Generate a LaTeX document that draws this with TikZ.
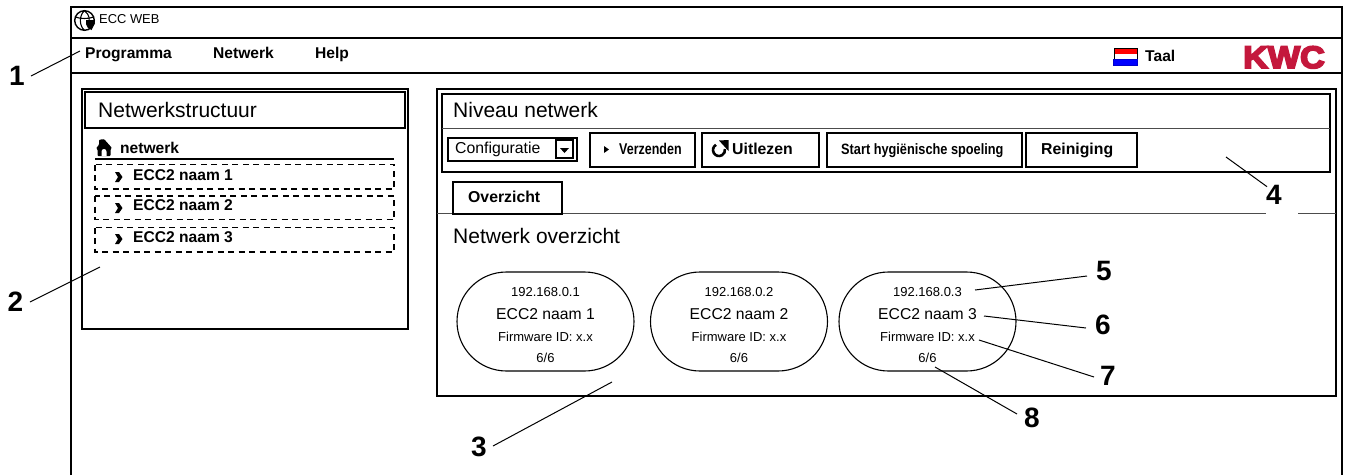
\documentclass[tikz,border=0pt]{standalone}
\usepackage{fontspec}
\usetikzlibrary{shapes.misc}
\setmainfont{Liberation Sans}
\newfontfamily\kwcfont[BoldFeatures={FakeBold=6,FakeStretch=1.1}]{Liberation Sans}
\newcommand{\fs}[1]{\fontsize{#1}{#1}\selectfont}
\definecolor{kwcred}{HTML}{C4183C}
\tikzset{
  x=1pt,y=-1pt,
  txt/.style={inner sep=0pt,anchor=base west},
  ctr/.style={inner sep=0pt,anchor=base},
  frame/.style={draw=black,line width=2pt},
  thin sep/.style={draw=black!70,line width=1.1pt},
  menu/.style={txt,font=\fs{15.6}\bfseries},
  titletxt/.style={txt,font=\fs{21}},
  tree/.style={txt,font=\fs{15.6}\bfseries},
  dashrow/.style={draw=black,line width=1.7pt,dash pattern=on 6pt off 4.5pt},
  btn/.style={txt,font=\fs{15.8}\bfseries},
  stadium/.style={draw=black,line width=1.1pt,rounded rectangle,minimum width=177pt,minimum height=99pt,inner sep=0pt},
  small/.style={ctr,font=\fs{13}},
  big/.style={ctr,font=\fs{15.7}},
  num/.style={inner sep=0pt,font=\fs{28}\bfseries},
  lead/.style={draw=black,line width=1pt},
  chev/.style={fill=black,draw=none},
}
\begin{document}
\begin{tikzpicture}
\useasboundingbox[fill=white] (0,0) rectangle (1345,475);
% window
\draw[frame] (71,475) -- (71,7) -- (1342,7) -- (1342,475);
\draw[frame] (71,38) -- (1342,38);
\draw[frame] (71,73) -- (1342,73);
% globe icon
\draw[line width=1.4pt] (84.5,20.5) circle (9.8);
\draw[line width=1.1pt] (84.5,10.7) .. controls (79,15) and (79,26) .. (84.5,30.3);
\draw[line width=1.1pt] (84.5,10.7) .. controls (90,15) and (90,20) .. (88,24);
\draw[line width=1.1pt] (75.5,17) .. controls (80,19) and (89,19) .. (93.5,17);
\fill[black] (86,20) -- (94,20) -- (95,23) -- (91.5,30) -- (88,28) -- (86,24) -- cycle;
\node[txt,font=\fs{12.9}] (title) at (99,23) {ECC WEB};
% menu
\node[menu] (m1) at (85,58) {Programma};
\node[menu] (m2) at (213,58) {Netwerk};
\node[menu] (m3) at (315,58) {Help};
% flag and language
\fill[red] (1113.5,48.5) rectangle (1137.5,53.5);
\fill[blue] (1113.5,59) rectangle (1137.5,65.5);
\draw[black,line width=1pt] (1114,48.5) rectangle (1137.5,59);
\draw[blue!80!black,line width=1pt] (1113.5,59) rectangle (1137.5,65.5);
\node[menu] (taal) at (1145,61) {Taal};
\node[inner sep=0pt,anchor=base,text=kwcred,font=\kwcfont\fs{31}\bfseries] (kwc) at (1284,68) {KWC};
% left panel
\draw[frame] (82,329) -- (82,89) -- (408,89) -- (408,329) -- cycle;
\draw[frame] (85,128) -- (85,92) -- (404.5,92) -- (404.5,128) -- cycle;
\node[titletxt] (netstruct) at (98,117) {Netwerkstructuur};
% house icon
\fill[black,rounded corners=1pt] (96,148) -- (99,145) -- (99,139.5) -- (102,139.5) -- (104,139) -- (112,148) -- (110.5,149) -- (110.5,156) -- (97.5,156) -- (97.5,149) -- cycle;
\fill[white] (101.5,156) -- (101.5,151.5) arc[start angle=180,end angle=360,radius=2.5] -- (106.5,156) -- cycle;
\node[tree] (net) at (120,153) {netwerk};
\draw[line width=1.8pt] (95,159) -- (394,159);
\draw[dashrow] (95,164.5) rectangle (394,189);
\draw[dashrow] (95,196) rectangle (394,219.5);
\draw[dashrow] (95,227.5) rectangle (394,252);
\foreach \n/\b/\m in {1/180/177,2/210/208,3/242/239}{
  \fill[chev] (115,\m-5) -- (119,\m-5) -- (122.5,\m) -- (119,\m+5) -- (115,\m+5) -- (118,\m) -- cycle;
  \node[tree] (row\n) at (133,\b) {ECC2 naam \n};
}
% right panel
\draw[frame] (437,396) -- (437,89) -- (1336,89) -- (1336,396) -- cycle;
\draw[frame] (442,172) -- (442,94) -- (1330,94) -- (1330,172) -- cycle;
\draw[thin sep] (442,128.5) -- (1330,128.5);
\node[titletxt] (niveau) at (453,117) {Niveau netwerk};
% toolbar
\draw[line width=2pt] (448,138) rectangle (577,161);
\draw[line width=2pt] (556,140) rectangle (573,158);
\fill[black] (560,148) -- (569,148) -- (564.5,153) -- cycle;
\node[txt,font=\fs{15.8}] (config) at (455,153) {Configuratie};
\draw[frame] (590,133) rectangle (695,167);
\fill[black] (604,146) -- (609,149.5) -- (604,153) -- cycle;
\node[txt,font=\fs{15.6}\bfseries] (verz) at (619,154) {\scalebox{0.8}[1]{Verzenden}};
\draw[frame] (702,133) rectangle (819,167);
\draw[line width=2.6pt] (716,144.8) arc[start angle=240,end angle=-10,radius=6];
\fill[black] (719,140.5) -- (728.5,140) -- (728.5,151) -- cycle;
\node[btn] (uit) at (732,154) {Uitlezen};
\draw[frame] (827,133) rectangle (1022,167);
\node[txt,font=\fs{15}\bfseries] (start) at (841,154) {\scalebox{0.85}[1]{Start hygiënische spoeling}};
\draw[frame] (1026,133) rectangle (1137,167);
\node[btn] (rein) at (1041,154) {Reiniging};
% tab and separator
\draw[thin sep] (437,213.5) -- (1266,213.5);
\draw[thin sep] (1298,213.5) -- (1336,213.5);
\draw[frame] (453,214) -- (453,182) -- (562,182) -- (562,214) -- cycle;
\node[btn] (over) at (468,202) {Overzicht};
\node[titletxt] (netov) at (453,243) {Netwerk overzicht};
% devices
\foreach \n/\x/\ip in {1/545.5/192.168.0.1,2/739/192.168.0.2,3/927.5/192.168.0.3}{
  \node[stadium] (dev\n) at (\x,321.5) {};
  \node[small] (ip\n) at (\x,296) {\ip};
  \node[big] (name\n) at (\x,319) {ECC2 naam \n};
  \node[small] (fw\n) at (\x,341) {Firmware ID: x.x};
  \node[small] (st\n) at (\x,362) {6/6};
}
% callouts
\node[num] (n1) at (17,75.5) {1};
\node[num] (n2) at (15.5,302) {2};
\node[num] (n3) at (479,447) {3};
\node[num] (n4) at (1274,195) {4};
\node[num] (n5) at (1104,271) {5};
\node[num] (n6) at (1103,325) {6};
\node[num] (n7) at (1108,376) {7};
\node[num] (n8) at (1032,418) {8};
\coordinate (c1) at (80,51);
\coordinate (c2) at (100,267);
\coordinate (c3) at (612,382);
\coordinate (c4) at (1226,157);
\coordinate (c5) at (975,290);
\coordinate (c6) at (984,316);
\coordinate (c7) at (979,340);
\coordinate (c8) at (935,367);
\draw[lead] ([shift={(6,0.5)}]n1.east) -- (c1);
\draw[lead] ([shift={(6.5,0)}]n2.east) -- (c2);
\draw[lead] ([shift={(6,-1)}]n3.east) -- (c3);
\draw[lead] ([shift={(1,1.5)}]n4.north west) -- (c4);
\draw[lead] ([shift={(-9,5)}]n5.west) -- (c5);
\draw[lead] ([shift={(-9,3)}]n6.west) -- (c6);
\draw[lead] ([shift={(-6,1)}]n7.west) -- (c7);
\draw[lead] ([shift={(-7,-4)}]n8.west) -- (c8);
\end{tikzpicture}
\end{document}
